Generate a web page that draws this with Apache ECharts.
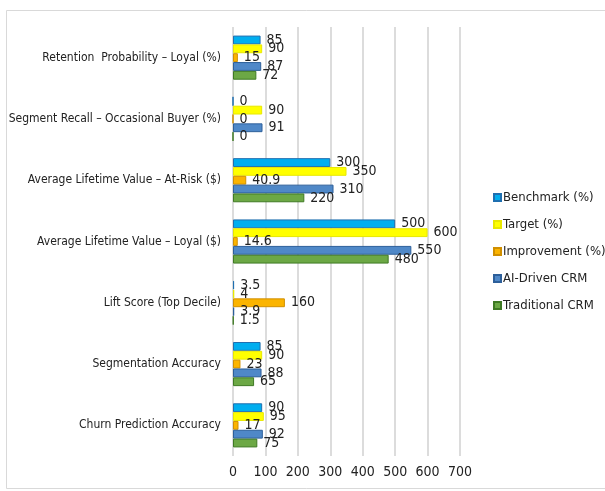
<!DOCTYPE html>
<html>
<head>
<meta charset="utf-8">
<script src="https://cdn.jsdelivr.net/npm/echarts@6/dist/echarts.min.js"></script>
<style>
  html, body { margin: 0; padding: 0; background: #ffffff; }
  #chart { width: 605px; height: 491px; }
</style>
</head>
<body>
<div id="chart"></div>
<script>
// Metrics, listed bottom to top along the category axis
const categories = [
  'Churn Prediction Accuracy',
  'Segmentation Accuracy',
  'Lift Score (Top Decile)',
  'Average Lifetime Value – Loyal ($)',
  'Average Lifetime Value – At-Risk ($)',
  'Segment Recall – Occasional Buyer (%)',
  'Retention  Probability – Loyal (%)'
];

const benchmark      = [90, 85, 3.5, 500, 300, 0, 85];
const target         = [95, 90, 4, 600, 350, 90, 90];
const improvement    = [17, 23, 160, 14.6, 40.9, 0, 15];
const aiDrivenCRM    = [92, 88, 3.9, 550, 310, 91, 87];
const traditionalCRM = [75, 65, 1.5, 480, 220, 0, 72];

const xTicks = [0, 100, 200, 300, 400, 500, 600, 700];

const legendOrder = ['Benchmark (%)', 'Target (%)', 'Improvement (%)', 'AI-Driven CRM', 'Traditional CRM'];

const font = '"Liberation Sans Narrow", "DejaVu Sans Condensed", sans-serif';

function barSeries(name, data, fill, stroke) {
  return {
    name: name,
    type: 'bar',
    data: data,
    barGap: '0%',
    barCategoryGap: '28%',
    itemStyle: { color: fill, borderColor: stroke, borderWidth: 1 },
    label: {
      show: true,
      position: 'right',
      distance: 6,
      color: '#222222',
      fontFamily: font,
      fontSize: 14
    },
    emphasis: { disabled: true }
  };
}

const chart = echarts.init(document.getElementById('chart'), null, { renderer: 'canvas' });

chart.setOption({
  animation: false,
  backgroundColor: '#ffffff',
  graphic: [{
    type: 'rect',
    shape: { x: 6.5, y: 10.5, width: 610, height: 478 },
    style: { fill: 'none', stroke: '#d9d9d9', lineWidth: 1 },
    silent: true
  }],
  grid: { left: 233, right: 145, top: 27, bottom: 35, containLabel: false, outerBoundsMode: 'none' },
  legend: {
    orient: 'vertical',
    left: 488,
    top: 186,
    width: 117,
    itemWidth: 7,
    itemHeight: 7,
    itemGap: 14,
    icon: 'rect',
    data: legendOrder,
    textStyle: { fontFamily: font, fontSize: 13, color: '#222222', padding: [0, 0, 0, -3] }
  },
  xAxis: {
    type: 'value',
    min: xTicks[0],
    max: xTicks[xTicks.length - 1],
    interval: 100,
    axisLine: { show: false },
    axisTick: { show: false },
    axisLabel: { fontFamily: font, fontSize: 14, color: '#222222', margin: 9 },
    splitLine: { show: true, lineStyle: { color: '#d0d0d0', width: 1.5 } }
  },
  yAxis: {
    type: 'category',
    data: categories,
    axisLine: { show: false },
    axisTick: { show: false },
    axisLabel: { fontFamily: font, fontSize: 12, color: '#222222', margin: 12 }
  },
  // Within each metric the first series sits at the top of the group
  series: [
    barSeries('Benchmark (%)', benchmark, '#00aeef', '#1f6fb0'),
    barSeries('Target (%)', target, '#ffff00', '#e8e800'),
    barSeries('Improvement (%)', improvement, '#fbb400', '#d08f00'),
    barSeries('AI-Driven CRM', aiDrivenCRM, '#4f88c8', '#2d5f9a'),
    barSeries('Traditional CRM', traditionalCRM, '#6ca845', '#3f7a24')
  ]
});
</script>
</body>
</html>
